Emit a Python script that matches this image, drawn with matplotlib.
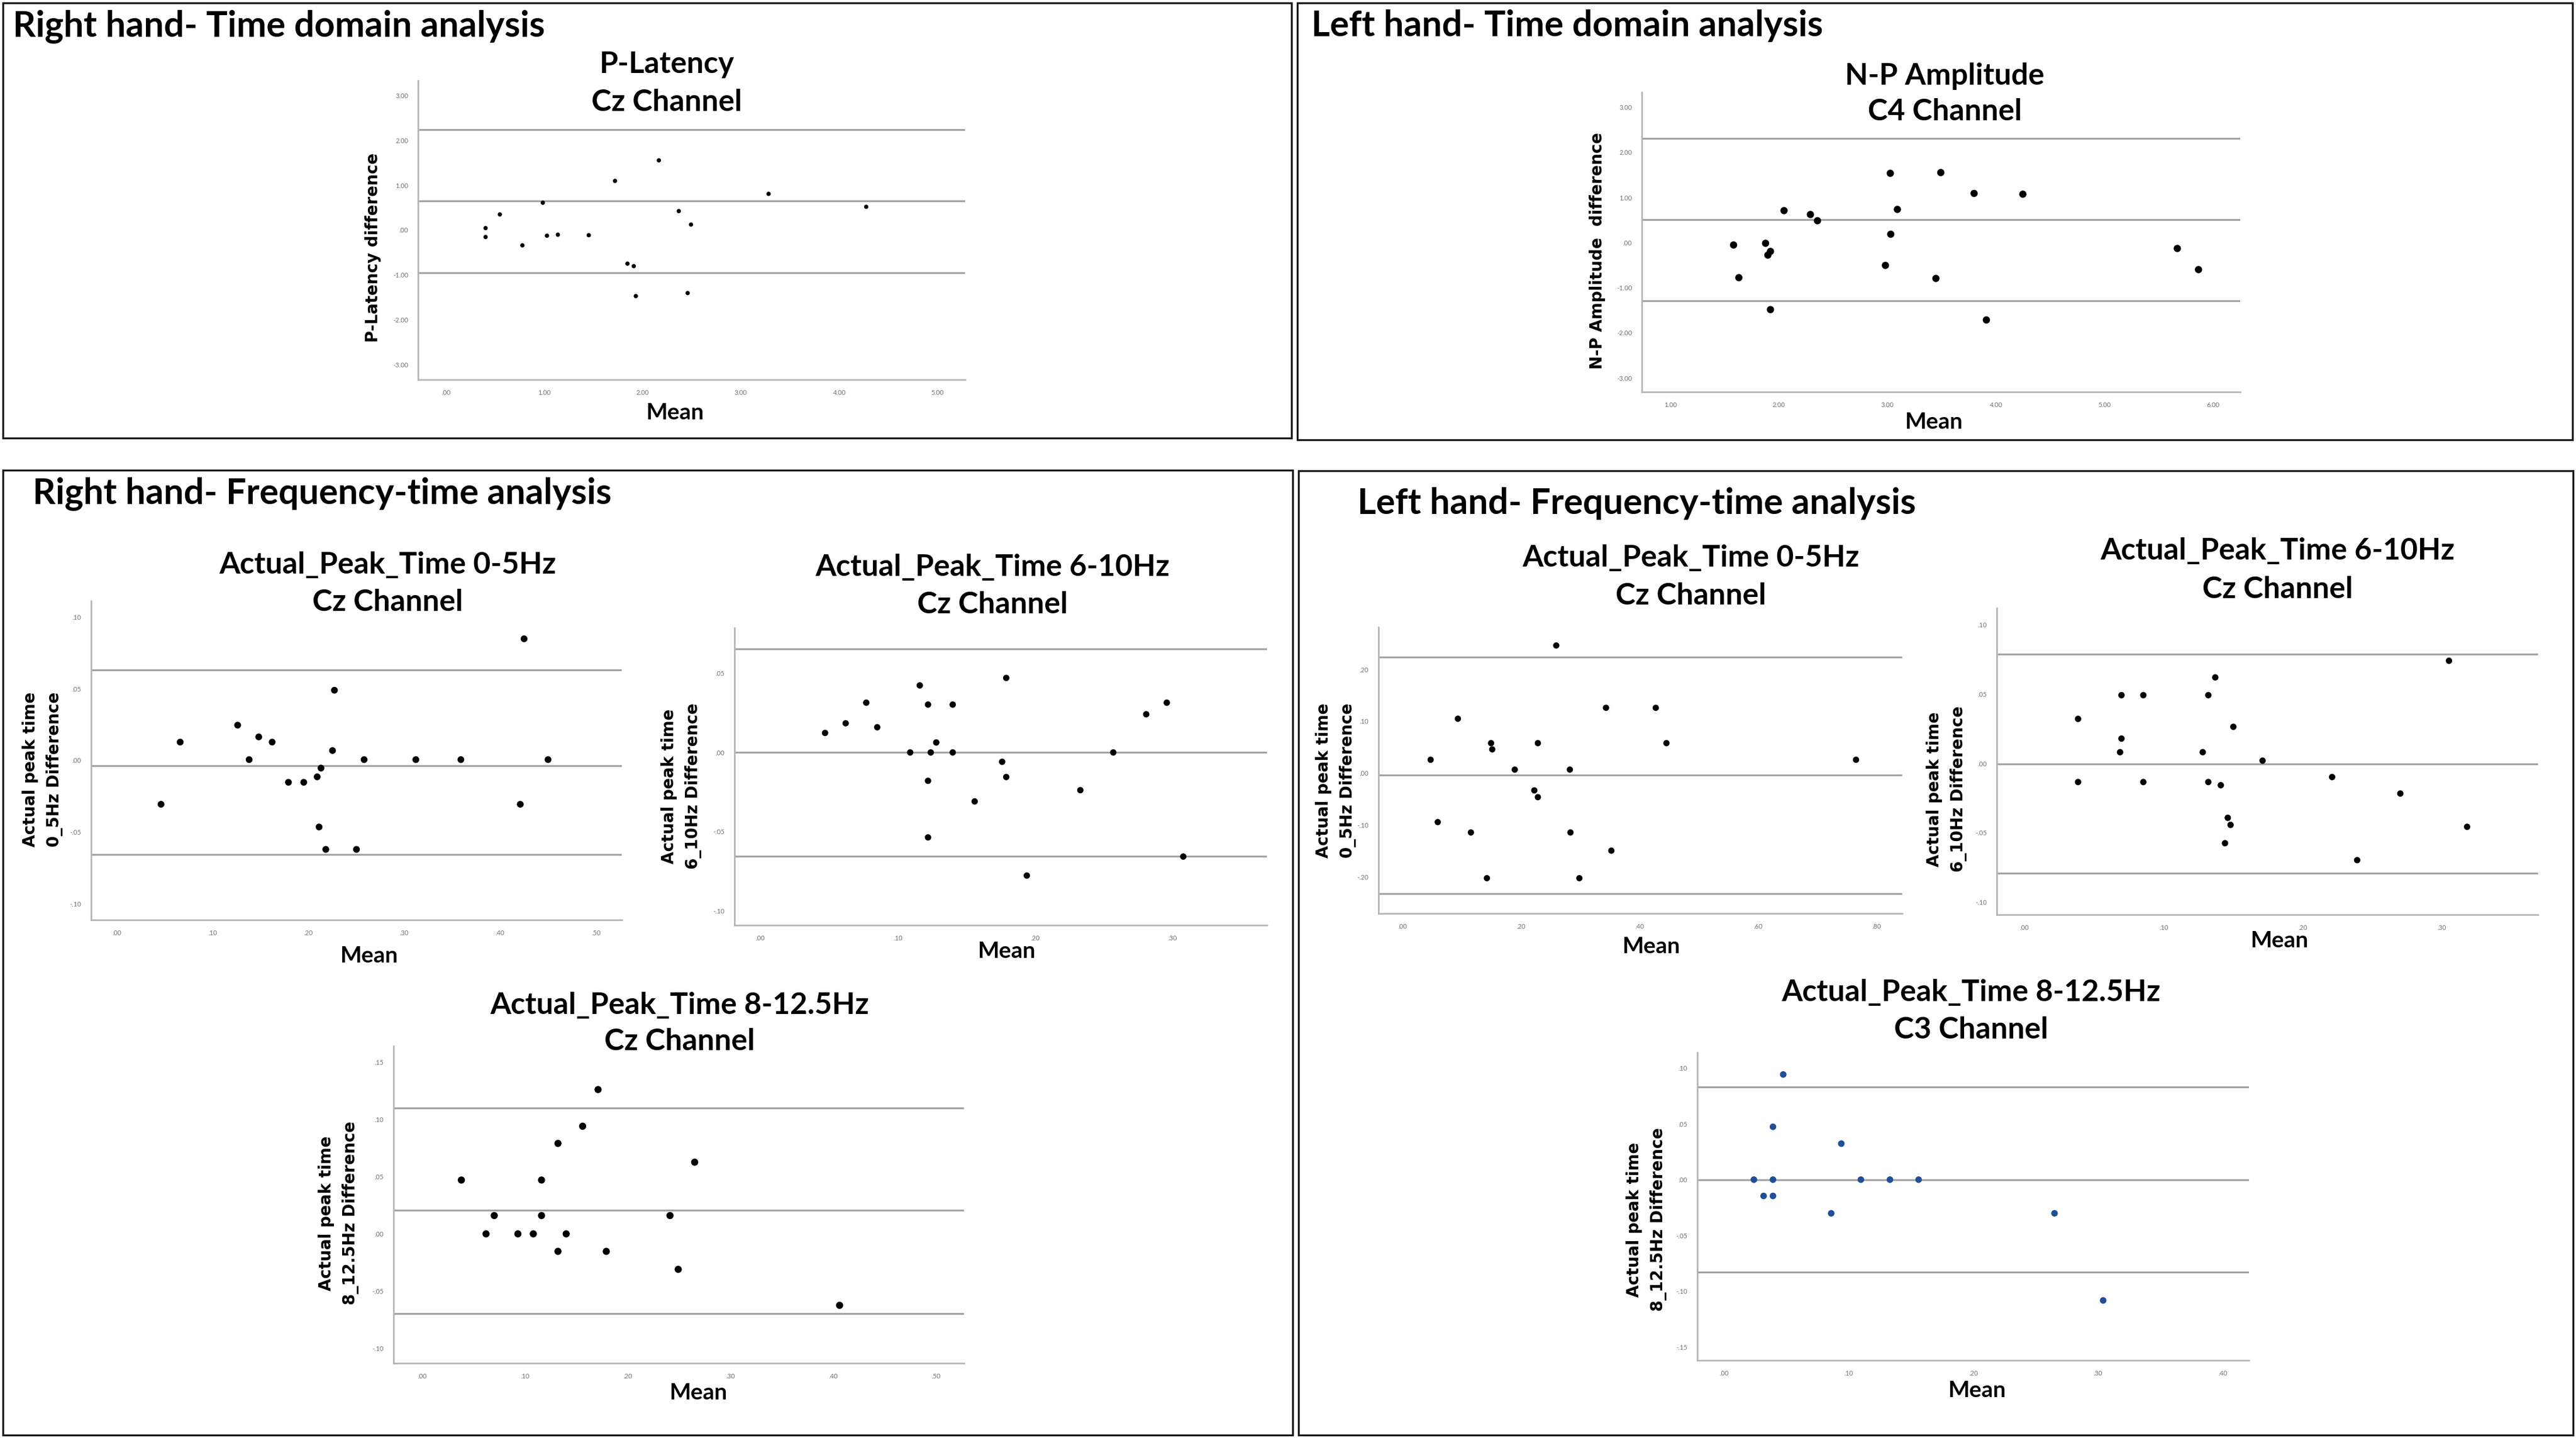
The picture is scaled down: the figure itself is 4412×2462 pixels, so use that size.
import matplotlib
matplotlib.use("Agg")
import matplotlib.pyplot as plt
from matplotlib.patches import Rectangle
import numpy as np

# Bland-Altman style panels: mean vs difference, with mean line and limits of agreement

# --- Right hand, time domain: P-Latency, Cz
platency_mean = [2.165, 1.719, 3.281, 0.985, 4.274, 0.548, 2.368, 2.492, 0.403,
                 0.403, 1.027, 1.138, 1.452, 0.777, 1.846, 1.910, 1.931, 2.458]
platency_diff = [1.554, 1.096, 0.808, 0.610, 0.520, 0.350, 0.424, 0.124, 0.045,
                 -0.153, -0.124, -0.102, -0.113, -0.339, -0.746, -0.802, -1.469, -1.401]
platency_lines = [0.650, 2.243, -0.944]   # mean, upper, lower

# --- Left hand, time domain: N-P Amplitude, C4
np_amp_mean = [3.026, 3.491, 3.798, 4.247, 2.047, 3.091, 2.290, 2.355, 3.030, 1.582,
               1.877, 1.922, 1.898, 5.670, 2.981, 5.865, 1.631, 3.446, 1.922, 3.911]
np_amp_diff = [1.535, 1.551, 1.089, 1.072, 0.708, 0.735, 0.621, 0.484, 0.185, -0.054,
               -0.016, -0.196, -0.278, -0.131, -0.506, -0.599, -0.778, -0.795, -1.486, -1.715]
np_amp_lines = [0.512, 2.308, -1.285]

# --- Right hand, frequency-time: 0-5Hz, Cz
r05_mean = [0.425, 0.227, 0.126, 0.066, 0.148, 0.162, 0.225, 0.138, 0.258, 0.312, 0.359,
            0.450, 0.213, 0.209, 0.179, 0.195, 0.046, 0.421, 0.211, 0.218, 0.250]
r05_diff = [0.0847, 0.0489, 0.0246, 0.0128, 0.0164, 0.0128, 0.0069, 0.0006, 0.0006, 0.0006,
            0.0006, 0.0006, -0.0053, -0.0114, -0.0152, -0.0152, -0.0305, -0.0305, -0.0463,
            -0.0619, -0.0619]
r05_lines = [-0.0035, 0.063, -0.0656]

# --- Right hand, frequency-time: 6-10Hz, Cz
r610_mean = [0.179, 0.116, 0.077, 0.122, 0.140, 0.296, 0.281, 0.062, 0.085, 0.047, 0.128, 0.109,
             0.124, 0.140, 0.257, 0.176, 0.179, 0.122, 0.233, 0.156, 0.122, 0.308, 0.194]
r610_diff = [0.047, 0.0423, 0.0314, 0.0302, 0.0302, 0.0314, 0.0241, 0.0184, 0.0159, 0.0123,
             0.0063, 0.0, 0.0, 0.0, 0.0, -0.0059, -0.0155, -0.0179, -0.0238, -0.0309,
             -0.0536, -0.0657, -0.0777]
r610_lines = [0.0, 0.0655, -0.0655]

# --- Right hand, frequency-time: 8-12.5Hz, Cz
r812_mean = [0.171, 0.156, 0.132, 0.265, 0.038, 0.116, 0.070, 0.116, 0.241, 0.062, 0.093,
             0.108, 0.140, 0.132, 0.179, 0.249, 0.406]
r812_diff = [0.126, 0.094, 0.079, 0.0626, 0.047, 0.047, 0.016, 0.016, 0.016, 0.0, 0.0,
             0.0, 0.0, -0.0153, -0.0153, -0.031, -0.0624]
r812_lines = [0.0205, 0.110, -0.0698]

# --- Left hand, frequency-time: 0-5Hz, Cz
l05_mean = [0.259, 0.343, 0.427, 0.093, 0.149, 0.151, 0.228, 0.445, 0.047, 0.765,
            0.189, 0.282, 0.222, 0.228, 0.059, 0.115, 0.283, 0.352, 0.142, 0.298]
l05_diff = [0.246, 0.126, 0.126, 0.105, 0.058, 0.046, 0.058, 0.058, 0.026, 0.026,
            0.007, 0.007, -0.033, -0.046, -0.094, -0.114, -0.114, -0.149, -0.202, -0.202]
l05_lines = [-0.003, 0.2235, -0.232]

# --- Left hand, frequency-time: 6-10Hz, Cz
l610_mean = [0.305, 0.137, 0.0696, 0.0853, 0.132, 0.0384, 0.150, 0.0696, 0.0686, 0.128, 0.171,
             0.221, 0.0384, 0.0853, 0.132, 0.141, 0.270, 0.146, 0.148, 0.318, 0.144, 0.239]
l610_diff = [0.074, 0.062, 0.0492, 0.0492, 0.0492, 0.0321, 0.0264, 0.0179, 0.0081, 0.0081, 0.002,
             -0.0098, -0.0134, -0.0134, -0.0134, -0.0157, -0.0217, -0.0392, -0.0443, -0.0457,
             -0.0575, -0.0697]
l610_lines = [-0.0004, 0.0787, -0.0793]

# --- Left hand, frequency-time: 8-12.5Hz, C3
l812_mean = [0.0474, 0.0392, 0.094, 0.0239, 0.0392, 0.1097, 0.133, 0.156, 0.0317, 0.0392,
             0.0859, 0.265, 0.304]
l812_diff = [0.0943, 0.0474, 0.0323, 0.0, 0.0, 0.0, 0.0, 0.0, -0.0146, -0.0146,
             -0.0302, -0.0302, -0.1083]
l812_lines = [0.0, 0.0831, -0.0828]

W, H = 4412, 2462
plt.rcParams['font.family'] = ['Lato', 'DejaVu Sans']

fig = plt.figure(figsize=(W / 100, H / 100), dpi=100)
fig.patch.set_facecolor('white')


def fx(x):
    return x / W


def fy(y):
    return 1 - y / H


def spss_fmt(v):
    s = f"{v:.2f}"
    if s.startswith("-0."):
        s = "-" + s[2:]
    elif s.startswith("0."):
        s = s[1:]
    if s == "-.00":
        s = ".00"
    return s


def ba_panel(box, lim, ticks, x, y, lines, title, ylabel, title_pos, mean_pos, ylab_pos,
             dot_size, dot_color='black'):
    left, top, right, bottom = box
    ax = fig.add_axes([fx(left), fy(bottom), (right - left) / W, (bottom - top) / H])
    ax.set_xlim(lim[0], lim[1])
    ax.set_ylim(lim[2], lim[3])
    for v in lines:
        ax.axhline(v, color='#a3a3a3', lw=2.3, zorder=1)
    ax.scatter(x, y, s=dot_size, color=dot_color, edgecolors='none', zorder=3)
    for side in ['top', 'right']:
        ax.spines[side].set_visible(False)
    for side in ['left', 'bottom']:
        ax.spines[side].set_color('#b5b5b5')
        ax.spines[side].set_linewidth(2.0)
    ax.set_xticks(ticks[0])
    ax.set_yticks(ticks[1])
    ax.set_xticklabels([spss_fmt(v) for v in ticks[0]])
    ax.set_yticklabels([spss_fmt(v) for v in ticks[1]])
    ax.tick_params(length=0, labelsize=8, labelcolor='#707070', pad=12)
    # two-line title
    fig.text(fx(title_pos[0]), fy(title_pos[1]), title[0], ha='center', va='center',
             fontsize=37, fontweight='bold')
    fig.text(fx(title_pos[0]), fy(title_pos[2]), title[1], ha='center', va='center',
             fontsize=37, fontweight='bold')
    fig.text(fx(mean_pos[0]), fy(mean_pos[1]), "Mean", ha='center', va='center',
             fontsize=28, fontweight='bold')
    fig.text(fx(ylab_pos[0]), fy(ylab_pos[1]), ylabel, ha='center', va='center',
             rotation=90, fontsize=20, fontweight='bold', family='DejaVu Sans',
             linespacing=1.55, multialignment='center')
    return ax


# panel frames
for (l, t, r, b) in [(5, 5, 2212, 750), (2222, 5, 4406, 753),
                     (5, 805, 2214, 2457), (2224, 806, 4407, 2457)]:
    fig.patches.append(Rectangle((fx(l), fy(b)), (r - l) / W, (b - t) / H,
                                 transform=fig.transFigure, fill=False,
                                 edgecolor='#1a1a1a', lw=2.4))

sec_kw = dict(fontsize=44, fontweight='bold', ha='left', va='baseline')
fig.text(fx(22), fy(62), "Right hand- Time domain analysis", **sec_kw)
fig.text(fx(2246), fy(62), "Left hand- Time domain analysis", **sec_kw)
fig.text(fx(56), fy(862), "Right hand- Frequency-time analysis", **sec_kw)
fig.text(fx(2325), fy(880), "Left hand- Frequency-time analysis", **sec_kw)

lat_ticks = ([0, 1, 2, 3, 4, 5], [-3, -2, -1, 0, 1, 2, 3])
ba_panel((716, 138, 1653, 650), (-0.284, 5.28, -3.33, 3.33), lat_ticks,
         platency_mean, platency_diff, platency_lines,
         ("P-Latency", "Cz Channel"), "P-Latency difference",
         (1142, 110, 175), (1156, 706), (639, 424), 28)

amp_ticks = ([1, 2, 3, 4, 5, 6], [-3, -2, -1, 0, 1, 2, 3])
ba_panel((2812, 158, 3837, 671), (0.737, 6.25, -3.31, 3.33), amp_ticks,
         np_amp_mean, np_amp_diff, np_amp_lines,
         ("N-P Amplitude", "C4 Channel"), "N-P Amplitude  difference",
         (3331, 130, 191), (3312, 722), (2736, 429), 80)

ba_panel((156, 1029, 1065, 1575), (-0.027, 0.527, -0.111, 0.111),
         ([0, .1, .2, .3, .4, .5], [-.1, -.05, 0, .05, .1]),
         r05_mean, r05_diff, r05_lines,
         ("Actual_Peak_Time 0-5Hz", "Cz Channel"), "Actual peak time\n0_5Hz Difference",
         (664, 968, 1031), (633, 1637), (73, 1317), 70)

ba_panel((1258, 1075, 2170, 1584), (-0.019, 0.369, -0.109, 0.0786),
         ([0, .1, .2, .3], [-.1, -.05, 0, .05]),
         r610_mean, r610_diff, r610_lines,
         ("Actual_Peak_Time 6-10Hz", "Cz Channel"), "Actual peak time\n6_10Hz Difference",
         (1700, 971, 1036), (1724, 1628), (1167, 1346), 62)

ba_panel((674, 1791, 1651, 2334), (-0.028, 0.527, -0.113, 0.164),
         ([0, .1, .2, .3, .4, .5], [-.1, -.05, 0, .05, .1, .15]),
         r812_mean, r812_diff, r812_lines,
         ("Actual_Peak_Time 8-12.5Hz", "Cz Channel"), "Actual peak time\n8_12.5Hz Difference",
         (1164, 1721, 1784), (1196, 2385), (580, 2077), 78)

ba_panel((2361, 1074, 3258, 1564), (-0.041, 0.843, -0.270, 0.281),
         ([0, .2, .4, .6, .8], [-.2, -.1, 0, .1, .2]),
         l05_mean, l05_diff, l05_lines,
         ("Actual_Peak_Time 0-5Hz", "Cz Channel"), "Actual peak time\n0_5Hz Difference",
         (2896, 956, 1021), (2828, 1620), (2288, 1336), 60)

ba_panel((3420, 1041, 4347, 1566), (-0.020, 0.369, -0.109, 0.112),
         ([0, .1, .2, .3], [-.1, -.05, 0, .05, .1]),
         l610_mean, l610_diff, l610_lines,
         ("Actual_Peak_Time 6-10Hz", "Cz Channel"), "Actual peak time\n6_10Hz Difference",
         (3901, 944, 1009), (3905, 1610), (3334, 1351), 62)

ba_panel((2907, 1802, 3852, 2329), (-0.0215, 0.421, -0.162, 0.114),
         ([0, .1, .2, .3, .4], [-.15, -.1, -.05, 0, .05, .1]),
         l812_mean, l812_diff, l812_lines,
         ("Actual_Peak_Time 8-12.5Hz", "C3 Channel"), "Actual peak time\n8_12.5Hz Difference",
         (3376, 1700, 1764), (3387, 2381), (2820, 2088), 66, dot_color='#1f4f97')

fig.savefig("out.png", dpi=100, facecolor='white')
